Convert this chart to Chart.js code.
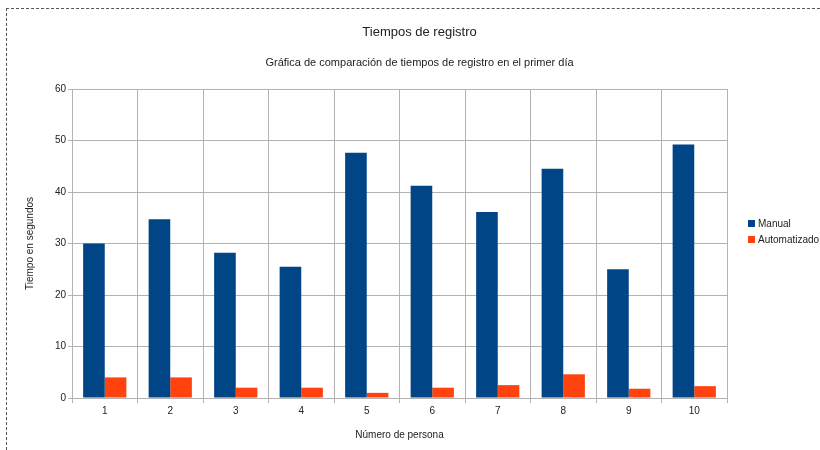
<!DOCTYPE html>
<html>
<head>
<meta charset="utf-8">
<script src="https://cdn.jsdelivr.net/npm/chart.js@4.4.1/dist/chart.umd.min.js"></script>
<style>
    body { margin: 0; background: #fff; }
    #wrap { position: relative; width: 820px; height: 450px; overflow: hidden; font-family: "Liberation Sans", Arial, sans-serif; }
    #marco { position: absolute; left: 6px; top: 8px; right: -10px; bottom: -10px; border-left: 1px dashed #555; border-top: 1px dashed #555; }
    #leyenda { position: absolute; left: 748px; top: 217px; font-size: 10px; color: #222; white-space: nowrap; }
    #leyenda div { height: 16px; line-height: 14px; }
    #leyenda span { display: inline-block; width: 7px; height: 7px; margin-right: 3px; vertical-align: 0px; }
</style>
</head>
<body>
<div id="wrap">
    <div id="marco"></div>
    <canvas id="grafica" width="820" height="450"></canvas>
    <div id="leyenda"></div>
</div>
<script>
// datos
const personas = ['1', '2', '3', '4', '5', '6', '7', '8', '9', '10'];
const manual = [30, 34.7, 28.2, 25.5, 47.6, 41.2, 36.1, 44.5, 25, 49.2];
const automatizado = [4, 4, 2, 2, 1, 2, 2.5, 4.6, 1.8, 2.3];
const ticksY = [0, 10, 20, 30, 40, 50, 60];

const gris = '#b3b3b3';
const texto = '#222';

const ctx = document.getElementById('grafica').getContext('2d');
const grafica = new Chart(ctx, {
    type: 'bar',
    data: {
        labels: personas,
        datasets: [
            { label: 'Manual', data: manual, backgroundColor: '#004586', borderWidth: 0 },
            { label: 'Automatizado', data: automatizado, backgroundColor: '#ff420e', borderWidth: 0 }
        ]
    },
    options: {
        responsive: false,
        animation: false,
        // el título queda centrado sobre todo el lienzo
        layout: { padding: { top: 25, right: 0, bottom: 0, left: 19 } },
        datasets: { bar: { barPercentage: 1, categoryPercentage: 0.66 } },
        plugins: {
            legend: { display: false },
            tooltip: { enabled: false },
            title: {
                display: true,
                text: 'Tiempos de registro',
                color: texto,
                font: { family: 'Liberation Sans', size: 13, weight: 'normal' },
                padding: { top: 0, bottom: 15.8 }
            },
            subtitle: {
                display: true,
                text: 'Gráfica de comparación de tiempos de registro en el primer día',
                color: texto,
                font: { family: 'Liberation Sans', size: 11 },
                padding: { top: 0, bottom: 19.4 }
            }
        },
        scales: {
            x: {
                grid: { color: gris, tickLength: 5, offset: true },
                border: { color: gris },
                ticks: { color: texto, padding: 2, font: { family: 'Liberation Sans', size: 10 } },
                title: {
                    display: true,
                    text: 'Número de persona',
                    color: texto,
                    font: { family: 'Liberation Sans', size: 10 },
                    padding: { top: 0, bottom: 9 }
                },
                afterFit: s => { s.height = 52; }
            },
            y: {
                min: ticksY[0],
                max: ticksY[ticksY.length - 1],
                afterBuildTicks: s => { s.ticks = ticksY.map(v => ({ value: v })); },
                grid: { color: gris, tickLength: 4 },
                border: { color: gris },
                ticks: { color: texto, padding: 2, font: { family: 'Liberation Sans', size: 10 } },
                title: {
                    display: true,
                    text: 'Tiempo en segundos',
                    color: texto,
                    font: { family: 'Liberation Sans', size: 10 },
                    padding: { top: 5, bottom: 0 }
                },
                afterFit: s => { s.width = 53; }
            },
            // hueco vacío a la derecha para la leyenda
            hueco: {
                type: 'linear',
                position: 'right',
                grid: { display: false, drawTicks: false },
                border: { display: false },
                ticks: { display: false },
                afterFit: s => { s.width = 93; }
            }
        }
    }
});

// leyenda a la derecha, recortada como en el original
const leyenda = document.getElementById('leyenda');
grafica.data.datasets.forEach(ds => {
    const fila = document.createElement('div');
    const cuadro = document.createElement('span');
    cuadro.style.background = ds.backgroundColor;
    fila.appendChild(cuadro);
    fila.appendChild(document.createTextNode(ds.label));
    leyenda.appendChild(fila);
});
</script>
</body>
</html>
